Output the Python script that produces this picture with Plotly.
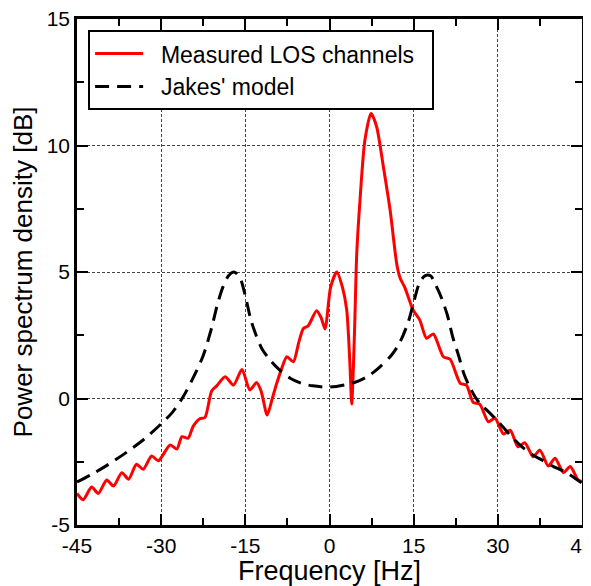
import plotly.graph_objects as go

# Measured LOS channel PSD
freq_meas = [-45, -43.9, -42.4, -41.2, -39.7, -38.5, -37.0, -35.8, -34.4, -33.2,
             -31.7, -30.5, -28.4, -27.2, -26.3, -25.2, -24.3, -23.1, -22.2, -21.0,
             -20.1, -18.6, -17.1, -15.6, -14.2, -13.0, -12.2, -11.1, -10.2, -9.4,
             -8.5, -7.6, -6.45, -5.5, -4.65, -3.8, -2.3, -1.5, -0.8, 0.2,
             1.3, 2.3, 3.07, 3.65, 3.96, 4.25, 4.55, 4.85, 5.44, 6.3,
             7.4, 8.4, 9.6, 10.8, 12.0, 12.6, 13.4, 14.9, 16.1, 17.3,
             18.5, 20.3, 21.5, 23.3, 24.4, 25.6, 26.8, 28.3, 29.5, 31.0,
             32.2, 33.6, 34.8, 36.3, 37.5, 39.0, 40.2, 41.7, 42.9, 44.3, 45]
psd_meas = [-3.75, -4.0, -3.5, -3.75, -3.22, -3.46, -2.93, -3.19, -2.6, -2.8,
            -2.27, -2.46, -1.84, -2.0, -1.51, -1.57, -1.1, -0.8, -0.75, 0.3,
            0.5, 0.86, 0.53, 1.15, 0.34, 0.63, 0.3, -0.65, 0.0, 0.6,
            1.2, 1.65, 1.45, 2.2, 2.77, 2.87, 3.47, 3.2, 2.75, 4.4,
            5.0, 4.4, 3.5, 1.3, -0.22, 1.2, 3.37, 5.7, 7.85, 10.2,
            11.27, 10.74, 9.16, 7.45, 5.3, 4.75, 4.4, 3.5, 3.1, 2.38,
            2.55, 1.65, 1.55, 0.6, 0.53, -0.15, -0.23, -0.92, -0.78, -1.4,
            -1.25, -1.91, -1.75, -2.3, -2.04, -2.67, -2.36, -2.93, -2.69, -3.22, -3.29]

# Jakes' model PSD
freq_jakes = [-45, -42, -39, -36, -33, -30, -28, -26, -24, -22.5,
              -21, -20, -19, -18, -17, -16, -15, -14, -13, -12,
              -10.5, -9, -7, -5, -3, 0, 3, 5, 7, 9,
              11, 12.5, 14, 15, 16, 17, 18, 19, 20, 21,
              22, 23, 24, 25, 26, 27, 28, 30, 32, 34,
              36, 38, 40, 42, 45]
psd_jakes = [-3.3, -2.95, -2.55, -2.1, -1.6, -1.0, -0.55, 0.1, 0.95, 1.7,
             2.8, 3.7, 4.4, 4.85, 5.0, 4.8, 4.05, 3.1, 2.45, 1.95,
             1.5, 1.15, 0.8, 0.6, 0.5, 0.45, 0.55, 0.68, 0.9, 1.25,
             1.7, 2.2, 3.0, 3.8, 4.55, 4.85, 4.85, 4.45, 3.95, 3.3,
             2.4, 1.7, 0.95, 0.45, 0.05, -0.25, -0.45, -0.9, -1.4, -1.85,
             -2.2, -2.45, -2.7, -2.9, -3.35]

x_ticks = [-45, -30, -15, 0, 15, 30, 45]
x_labels = ['-45', '-30', '-15', '0', '15', '30', '45']
y_ticks = [-5, 0, 5, 10, 15]
y_labels = ['-5', '0', '5', '10', '15']

FONT = 'Liberation Sans, Arial'
NBSP = '\u00a0'

fig = go.Figure()
fig.add_trace(go.Scatter(
    x=freq_meas, y=psd_meas, mode='lines',
    name=NBSP * 2 + 'Measured LOS channels' + NBSP * 2,
    line=dict(color='#ff0000', width=3, shape='spline', smoothing=0.7),
))
fig.add_trace(go.Scatter(
    x=freq_jakes, y=psd_jakes, mode='lines',
    name=NBSP * 2 + "Jakes' model",
    line=dict(color='black', width=3, dash='14px,8px', shape='spline', smoothing=0.8),
))

axis_common = dict(
    showline=True, linecolor='black', linewidth=2.5, mirror='ticks',
    ticks='inside', ticklen=11, tickwidth=2, tickcolor='black',
    showgrid=True, gridcolor='#444444', gridwidth=1, griddash='3px,2px',
    zeroline=False, automargin=False, ticklabeloverflow='allow',
    tickfont=dict(family=FONT, size=21, color='black'),
)

fig.update_xaxes(
    range=[-45, 45], tickvals=x_ticks, ticktext=x_labels,
    minor=dict(dtick=7.5, tick0=-45, ticks='inside', ticklen=7, tickwidth=2,
               tickcolor='black', showgrid=False),
    title=dict(text='Frequency [Hz]', standoff=7,
               font=dict(family=FONT, size=27, color='black')),
    **axis_common,
)
fig.update_yaxes(
    range=[-5, 15], tickvals=y_ticks, ticktext=y_labels,
    minor=dict(dtick=2.5, tick0=-5, ticks='inside', ticklen=7, tickwidth=2,
               tickcolor='black', showgrid=False),
    title=dict(text='Power spectrum density [dB]', standoff=16,
               font=dict(family=FONT, size=26, color='black')),
    **axis_common,
)

# the page body adds an 8px offset, so the figure is shrunk to fit the window
fig.update_layout(
    width=583, height=578,
    margin=dict(l=69, r=9, t=11, b=61),
    paper_bgcolor='white', plot_bgcolor='white',
    showlegend=True,
    legend=dict(
        x=0.022, y=0.978, xanchor='left', yanchor='top',
        bgcolor='white', bordercolor='black', borderwidth=2,
        font=dict(family=FONT, size=23, color='black'),
        itemwidth=48, tracegroupgap=0,
    ),
)

fig.write_html("out.html")
